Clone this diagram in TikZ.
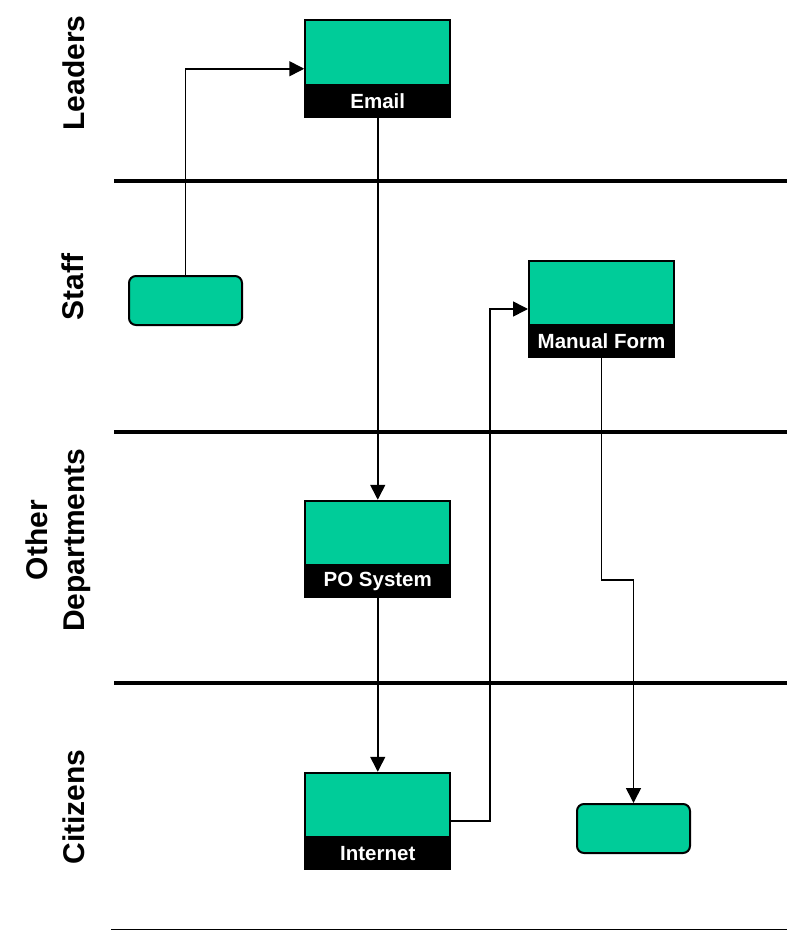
\documentclass[tikz,border=0pt]{standalone}
\usepackage{fontspec}
\setmainfont{Liberation Sans}
\usetikzlibrary{arrows.meta}
\definecolor{procgreen}{RGB}{0,204,153}
\tikzset{
  proc/.style={draw=black, line width=2pt, fill=procgreen, minimum width=145pt, minimum height=96.5pt, inner sep=0pt},
  band/.style={fill=black, text=white, minimum width=145pt, minimum height=34pt, inner sep=0pt, anchor=south, font=\fontsize{20.5}{22}\selectfont\bfseries},
  rproc/.style={draw=black, line width=2pt, fill=procgreen, rounded corners=7pt, minimum width=113pt, minimum height=49pt, inner sep=0pt},
  lane/.style={line width=4.5pt},
  lanelabel/.style={rotate=90, align=center, font=\fontsize{30}{37}\selectfont\bfseries, inner sep=0pt},
  conn/.style={line width=1.6pt},
  arr/.style={conn, -{Triangle[length=15pt,width=15pt]}}
}
\begin{document}
\begin{tikzpicture}[x=1pt,y=-1pt]
\useasboundingbox (0,0) rectangle (787,931);
% lane lines
\draw[lane] (114,181) -- (787,181);
\draw[lane] (114,432) -- (787,432);
\draw[lane] (114,683) -- (787,683);
\draw[line width=1.5pt] (111,929.5) -- (787,929.5);
% lane labels
\node[lanelabel] (lLeaders) at (74,73) {Leaders};
\node[lanelabel] (lStaff) at (73,287) {Staff};
\node[lanelabel] (lOther) at (58,540) {Other\\Departments};
\node[lanelabel] (lCitizens) at (74,807) {Citizens};
% process boxes
\node[proc] (email) at (377.75,68.75) {};
\node[band] (emailL) at (email.south) {Email};
\node[proc] (mf) at (601.5,309) {};
\node[band] (mfL) at (mf.south) {Manual Form};
\node[proc] (po) at (377.75,549) {};
\node[band] (poL) at (po.south) {PO System};
\node[proc] (inet) at (377.75,821) {};
\node[band] (inetL) at (inet.south) {Internet};
\node[rproc] (staff) at (185.5,300.5) {};
\node[rproc] (cit) at (633.5,828.5) {};
% connectors
\coordinate (bendA) at (490,821);
\coordinate (bendB) at (601.5,580);
\draw[arr] (staff.north) |- (email.west);
\draw[arr] (emailL.south) -- (po.north);
\draw[arr] (poL.south) -- (inet.north);
\draw[arr] (inet.east) -- (bendA) |- (mf.west);
\draw[arr] (mfL.south) -- (bendB) -| (cit.north);
\end{tikzpicture}
\end{document}
